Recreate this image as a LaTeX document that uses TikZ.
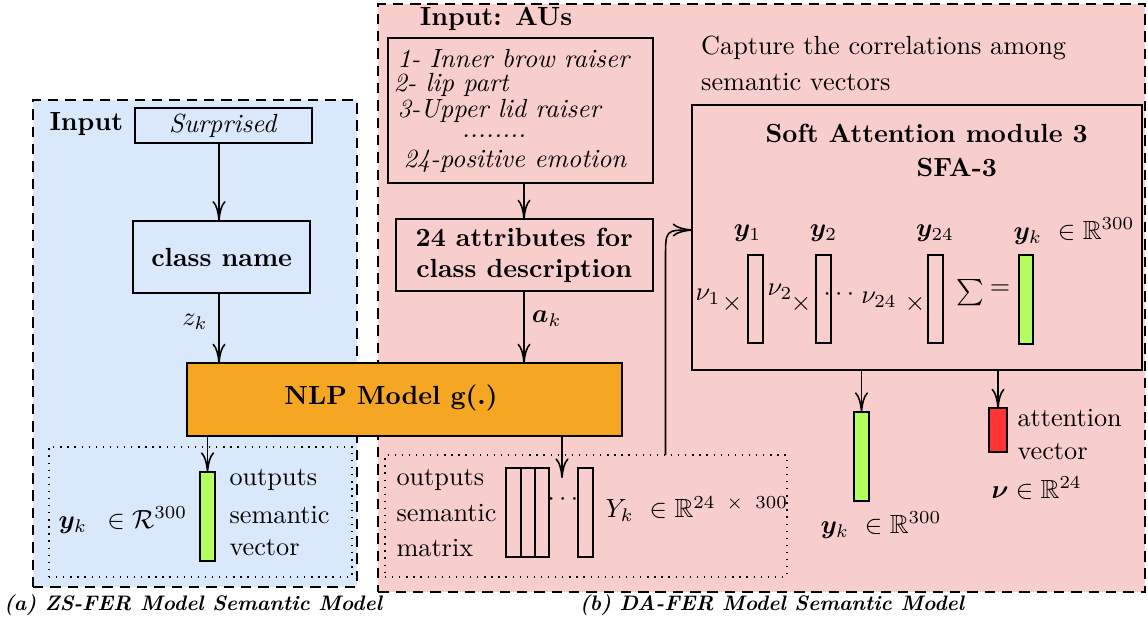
\documentclass[tikz,border=0pt]{standalone}
\usepackage{amsmath,amssymb,bm}
\usetikzlibrary{arrows.meta,calc}
\newdimen\pxu \pxu=0.381pt
\definecolor{bluebg}{HTML}{DAE8FC}
\definecolor{pinkbg}{HTML}{F8CECC}
\definecolor{nlporange}{HTML}{F5A623}
\definecolor{vecgreen}{HTML}{B3FF5F}
\definecolor{attred}{HTML}{FF3434}
\begin{document}
\begin{tikzpicture}[x=0.381pt,y=-0.381pt,
  sz/.style 2 args={minimum width=#1*\pxu, minimum height=#2*\pxu},
  box/.style={draw, line width=0.7pt, inner sep=0pt, outer sep=0pt},
  region/.style={draw, line width=0.8pt, dash pattern=on 4pt off 2.6pt, inner sep=0pt, outer sep=0pt},
  dotbox/.style={draw, line width=0.8pt, dash pattern=on 0.5pt off 2.2pt, inner sep=0pt, outer sep=0pt},
  bar/.style={draw, line width=0.7pt, inner sep=0pt, outer sep=0pt},
  arr/.style={line width=0.6pt, -{Computer Modern Rightarrow[length=7.5pt,width=5pt]}},
  lbl/.style={inner sep=0pt, anchor=west},
  txt/.style={inner sep=0pt},
  captxt/.style={inner sep=0pt, font=\footnotesize\bfseries\itshape}]
\useasboundingbox (0,0) rectangle (1148,621);

% background regions
\node[region, fill=pinkbg, sz={766.7}{587.7}] (pink) at (761.65,297.85) {};
\node[region, fill=bluebg, sz={323.7}{486.7}] (blue) at (194.85,343.35) {};

% dotted output boxes
\node[dotbox, sz={302.7}{130}] (dotL) at (200.35,511.7) {};
\node[dotbox, sz={401.7}{121.7}] (dotR) at (585.85,515.85) {};

% ---------- left part ----------
\node[lbl, font=\bfseries] (inputL) at (49,124) {Input};
\node[box, sz={176.7}{34.4}] (surprised) at (223.35,125.5) {\textit{Surprised}};
\node[box, sz={176.7}{72.6}] (classname) at (221.65,257) {\textbf{class name}};
\node[box, fill=nlporange, sz={434.4}{72.4}] (nlp) at (404.5,399.5) {};
\node[txt, font=\bfseries] (nlptxt) at (391,398) {NLP Model g(.)};
\coordinate (xl) at (219,0);
\draw[arr] (surprised.south -| xl) -- (classname.north -| xl);
\draw[arr] (classname.south -| xl) -- (nlp.north -| xl);
\node[txt] (zk) at (195,322) {$z_k$};

\node[bar, fill=vecgreen, sz={15}{89}] (lgbar) at (207.5,516.5) {};
\draw[arr] (nlp.south -| lgbar.north) -- (lgbar.north);
\node[lbl] (outL1) at (229,480) {outputs};
\node[lbl] (outL2) at (229,515) {semantic};
\node[lbl] (outL3) at (229,548) {vector};
\node[lbl] (ykL) at (58,520) {$\bm{y}_k\ \,\in \mathcal{R}^{300}$};

\node[captxt] (capA) at (193,605) {(a) ZS-FER Model Semantic Model};

% ---------- right part ----------
\node[txt, font=\bfseries] (inputR) at (496,19) {Input: AUs};
\node[box, sz={265}{144.4}] (au) at (520.8,110.5) {};
\node[lbl] (au1) at (397,59) {\textit{1- Inner brow raiser}};
\node[lbl] (au2) at (393,84.5) {\textit{2- lip part}};
\node[lbl] (au3) at (397,111) {\textit{3-Upper lid raiser}};
\node[txt, anchor=base] (au4) at (494,137) {\textit{........}};
\node[lbl] (au5) at (403,161) {\textit{24-positive emotion}};

\node[box, sz={257}{71.7}, align=center, font=\bfseries] (attr) at (524.2,255.15) {24 attributes for\\class description};
\coordinate (xr) at (524,0);
\draw[arr] (au.south -| xr) -- (attr.north -| xr);
\draw[arr] (attr.south -| xr) -- (nlp.north -| xr);
\node[txt] (ak) at (546.7,319) {$\bm{a}_k$};

% semantic matrix
\node[lbl] (outR1) at (396,480) {outputs};
\node[lbl] (outR2) at (396,513) {semantic};
\node[lbl] (outR3) at (396,548) {matrix};
\node[bar, sz={15}{88.4}] (m1) at (513.2,512.5) {};
\node[bar, sz={14.3}{88.4}] (m2) at (527.9,512.5) {};
\node[bar, sz={14.3}{88.4}] (m3) at (542.2,512.5) {};
\node[txt] (mdots) at (565,500) {$\cdots$};
\node[bar, sz={15}{88.4}] (m4) at (585.2,512.5) {};
\node[lbl] (Yk) at (605,509) {$Y_k\ \in \mathbb{R}^{24\ \,\times\ \,300}$};
\coordinate (mend) at (562,478);
\draw[arr] (nlp.south -| mend) -- (mend);

% capture text
\node[lbl] (cap1) at (700.7,48.3) {\makebox[139pt][s]{Capture the correlations among}};
\node[lbl] (cap2) at (700.7,81.7) {semantic vectors};

% SFA module
\node[box, sz={449.4}{265}] (sfa) at (917,237.5) {};
\node[txt, font=\bfseries] (sfat1) at (926.7,133) {Soft Attention module 3};
\node[txt, font=\bfseries] (sfat2) at (956.7,167) {SFA-3};
\node[txt] (y1) at (747.5,233) {$\bm{y}_1$};
\node[txt] (y2) at (823.4,233) {$\bm{y}_2$};
\node[txt] (y24) at (935,233) {$\bm{y}_{24}$};
\node[lbl] (ykS) at (1013,231) {$\bm{y}_k\ \in \mathbb{R}^{300}$};
\node[bar, sz={15}{88.3}] (s1) at (755.2,299.2) {};
\node[bar, sz={15}{88.3}] (s2) at (823.5,299.2) {};
\node[bar, sz={15}{88.3}] (s3) at (935.5,299.2) {};
\node[bar, fill=vecgreen, sz={14}{89}] (sg) at (1026,299.5) {};
\node[txt] (nu1) at (708,297) {$\nu_1$};
\node[txt] (x1) at (732,304) {$\times$};
\node[txt] (nu2) at (780,292) {$\nu_2$};
\node[txt] (x2) at (801,304) {$\times$};
\node[txt] (sdots) at (841,295) {$\cdots$};
\node[txt] (nu24) at (879,300) {$\nu_{24}$};
\node[txt] (x24) at (915,304) {$\times$};
\node[txt] (sumS) at (970,293) {$\sum$};
\node[txt] (eqS) at (1000,290) {$=$};

% curved connector into SFA
\coordinate (cbend) at (665.5,258);
\coordinate (ctop) at (665.5,230);
\draw[arr] (dotR.north -| cbend) -- (cbend) .. controls (ctop) .. (sfa.west |- ctop);

% SFA outputs
\node[bar, fill=vecgreen, sz={15}{89}] (gbar) at (861.5,456.5) {};
\node[bar, fill=attred, sz={17.4}{43.7}] (rbar) at (998,430.2) {};
\draw[arr] (sfa.south -| gbar.north) -- (gbar.north);
\draw[arr] (sfa.south -| rbar.north) -- (rbar.north);
\node[lbl] (att1) at (1017,418) {attention};
\node[lbl] (att2) at (1017,452) {vector};
\node[lbl] (nuR) at (991,488) {$\bm{\nu}\in\mathbb{R}^{24}$};
\node[lbl] (ykO) at (820,525) {$\bm{y}_k\ \in \mathbb{R}^{300}$};

\node[captxt] (capB) at (772,605) {(b) DA-FER Model Semantic Model};
\end{tikzpicture}
\end{document}
